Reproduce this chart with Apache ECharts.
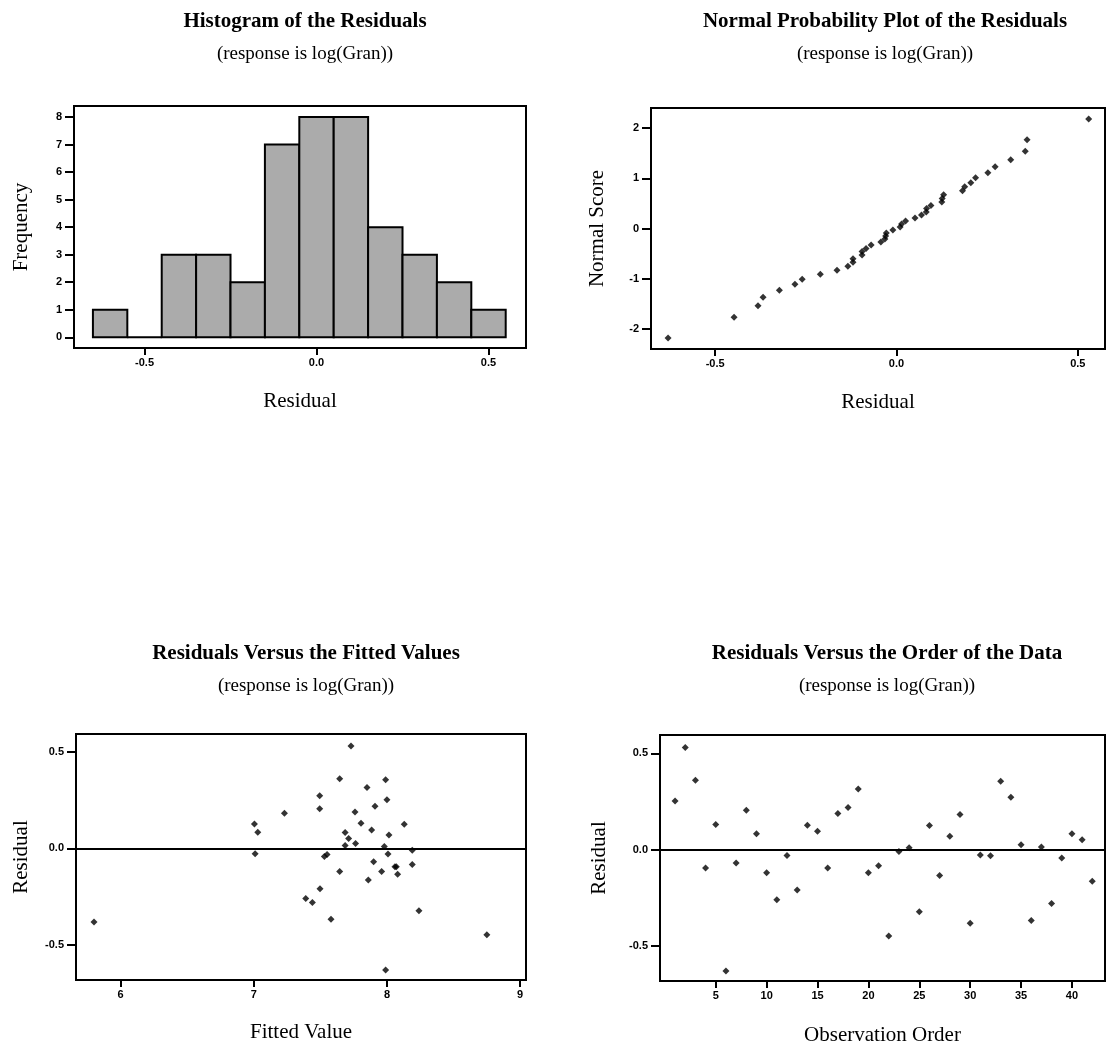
<!DOCTYPE html>
<html>
<head>
<meta charset="utf-8">
<script src="https://cdn.jsdelivr.net/npm/echarts@6/dist/echarts.min.js"></script>
<style>
  html, body { margin: 0; padding: 0; background: #fff; }
  #main { width: 1106px; height: 1047px; }
</style>
</head>
<body>
<div id="main"></div>
<script>
// residuals in observation order (1..42) and their fitted values
var residuals = [0.252, 0.53, 0.36, -0.095, 0.13, -0.63, -0.07, 0.205, 0.083, -0.12,
                 -0.26, -0.03, -0.21, 0.126, 0.095, -0.095, 0.188, 0.218, 0.315, -0.12,
                 -0.084, -0.448, -0.01, 0.01, -0.323, 0.125, -0.134, 0.069, 0.182, -0.382,
                 -0.028, -0.032, 0.355, 0.272, 0.025, -0.368, 0.014, -0.28, -0.043, 0.082,
                 0.051, -0.164];
var fitted = [8.00, 7.73, 7.645, 8.06, 7.805, 7.99, 7.90, 7.495, 7.03, 7.96,
              7.39, 8.008, 7.497, 7.005, 7.885, 8.07, 7.76, 7.91, 7.85, 7.645,
              8.19, 8.75, 8.19, 7.98, 8.24, 8.13, 8.08, 8.015, 7.23, 5.80,
              7.01, 7.55, 7.99, 7.495, 7.764, 7.58, 7.686, 7.44, 7.53, 7.686,
              7.712, 7.86];
// normal scores of the ordered residuals
var normalScores = [-2.18, -1.77, -1.54, -1.37, -1.23, -1.11, -1.01, -0.91, -0.83, -0.75,
                    -0.67, -0.60, -0.53, -0.46, -0.40, -0.33, -0.27, -0.21, -0.15, -0.09,
                    -0.03, 0.03, 0.09, 0.15, 0.21, 0.27, 0.33, 0.40, 0.46, 0.53,
                    0.60, 0.67, 0.75, 0.83, 0.91, 1.01, 1.11, 1.23, 1.37, 1.54,
                    1.77, 2.18];
// histogram
var binMids = [-0.6, -0.5, -0.4, -0.3, -0.2, -0.1, 0.0, 0.1, 0.2, 0.3, 0.4, 0.5];
var binCounts = [1, 0, 3, 3, 2, 7, 8, 8, 4, 3, 2, 1];
var binWidth = 0.1;

var freqTicks = [0, 1, 2, 3, 4, 5, 6, 7, 8];
var residTicks = [-0.5, 0.0, 0.5];
var scoreTicks = [-2, -1, 0, 1, 2];
var fittedTicks = [6, 7, 8, 9];
var orderTicks = [5, 10, 15, 20, 25, 30, 35, 40];

var SERIF = '"Liberation Serif", "DejaVu Serif", serif';
var SANS = '"Liberation Sans", Arial, sans-serif';

var chart = echarts.init(document.getElementById('main'));

var histData = binMids.map(function (m, i) {
  return [m - binWidth / 2, m + binWidth / 2, binCounts[i]];
});
var normalData = residuals.slice().sort(function (a, b) { return a - b; })
  .map(function (r, i) { return [r, normalScores[i]]; });
var fittedData = fitted.map(function (f, i) { return [f, residuals[i]]; });
var orderData = residuals.map(function (r, i) { return [i + 1, r]; });

function fmt1(v) { return Number(v).toFixed(1); }

function xAx(idx, min, max, ticks, fmt, name, gap) {
  return {
    type: 'value', gridIndex: idx, min: min, max: max, position: 'bottom',
    axisLine: { show: false, onZero: false },
    axisTick: { show: true, inside: false, length: 7, customValues: ticks,
                lineStyle: { color: '#000', width: 2 } },
    axisLabel: { customValues: ticks, formatter: fmt, margin: 9, color: '#000',
                 fontFamily: SANS, fontWeight: 'bold', fontSize: 11 },
    splitLine: { show: false },
    name: name, nameLocation: 'middle', nameGap: gap,
    nameTextStyle: { fontFamily: SERIF, fontSize: 21, color: '#000' }
  };
}
function yAx(idx, min, max, ticks, fmt, name, gap) {
  return {
    type: 'value', gridIndex: idx, min: min, max: max, position: 'left',
    axisLine: { show: false, onZero: false },
    axisTick: { show: true, inside: false, length: 9, customValues: ticks,
                lineStyle: { color: '#000', width: 2 } },
    axisLabel: { customValues: ticks, formatter: fmt, margin: 12, color: '#000',
                 fontFamily: SANS, fontWeight: 'bold', fontSize: 11 },
    splitLine: { show: false },
    name: name, nameLocation: 'middle', nameGap: gap, nameRotate: 90,
    nameTextStyle: { fontFamily: SERIF, fontSize: 21, color: '#000' }
  };
}
function titleAt(text, left, top) {
  return {
    text: text, subtext: '(response is log(Gran))',
    left: left, top: top, textAlign: 'center', itemGap: 7,
    textStyle: { fontFamily: SERIF, fontWeight: 'bold', fontSize: 21, color: '#000', lineHeight: 26 },
    subtextStyle: { fontFamily: SERIF, fontSize: 19, color: '#000', lineHeight: 24 }
  };
}
var zeroLine = {
  silent: true, symbol: 'none', label: { show: false },
  lineStyle: { color: '#000', width: 2, type: 'solid' },
  data: [{ yAxis: 0 }]
};
var dot = { color: '#000' };

var option = {
  backgroundColor: '#fff',
  animation: false,
  title: [
    titleAt('Histogram of the Residuals', 300, 4),
    titleAt('Normal Probability Plot of the Residuals', 880, 4),
    titleAt('Residuals Versus the Fitted Values', 301, 636),
    titleAt('Residuals Versus the Order of the Data', 882, 636)
  ],
  grid: [
    { left: 74, top: 106, width: 452, height: 242 },
    { left: 651, top: 108, width: 454, height: 241 },
    { left: 76, top: 734, width: 450, height: 246 },
    { left: 660, top: 735, width: 445, height: 246 }
  ].map(function (g) {
    g.show = true; g.borderColor = '#000'; g.borderWidth = 2; g.backgroundColor = '#fff';
    return g;
  }),
  xAxis: [
    xAx(0, -0.705, 0.609, residTicks, fmt1, 'Residual', 43),
    xAx(1, -0.677, 0.575, residTicks, fmt1, 'Residual', 43),
    xAx(2, 5.665, 9.044, fittedTicks, null, 'Fitted Value', 42),
    xAx(3, -0.48, 43.25, orderTicks, null, 'Observation Order', 44)
  ],
  yAxis: [
    yAx(0, -0.39, 8.4, freqTicks, null, 'Frequency', 42),
    yAx(1, -2.4, 2.4, scoreTicks, null, 'Normal Score', 43),
    yAx(2, -0.682, 0.592, residTicks, fmt1, 'Residual', 44),
    yAx(3, -0.682, 0.595, residTicks, fmt1, 'Residual', 50)
  ],
  series: [
    {
      type: 'custom', xAxisIndex: 0, yAxisIndex: 0, data: histData,
      encode: { x: [0, 1], y: 2 },
      renderItem: function (params, api) {
        var p0 = api.coord([api.value(0), api.value(2)]);
        var p1 = api.coord([api.value(1), 0]);
        return {
          type: 'rect',
          shape: { x: p0[0], y: p0[1], width: p1[0] - p0[0], height: p1[1] - p0[1] },
          style: { fill: '#ababab', stroke: '#000', lineWidth: 2 }
        };
      }
    },
    { type: 'scatter', xAxisIndex: 1, yAxisIndex: 1, data: normalData,
      symbol: 'diamond', symbolSize: 7, itemStyle: dot },
    { type: 'scatter', xAxisIndex: 2, yAxisIndex: 2, data: fittedData,
      symbol: 'diamond', symbolSize: 7, itemStyle: dot, markLine: zeroLine },
    { type: 'scatter', xAxisIndex: 3, yAxisIndex: 3, data: orderData,
      symbol: 'diamond', symbolSize: 7, itemStyle: dot, markLine: zeroLine }
  ]
};
chart.setOption(option);
</script>
</body>
</html>
